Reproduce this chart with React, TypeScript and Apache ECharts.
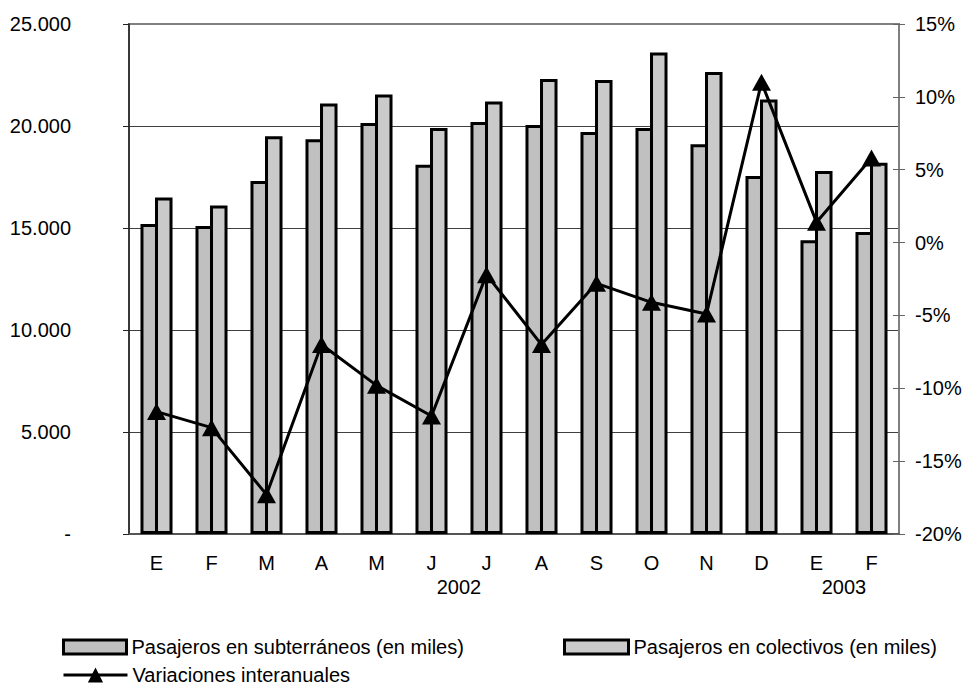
import React, { useEffect, useRef } from "react";
import * as echarts from "echarts";

const months = ["E", "F", "M", "A", "M", "J", "J", "A", "S", "O", "N", "D", "E", "F"];
const yearLabels: Record<number, string> = { 6: "2002", 13: "2003" };
const subte = [15200, 15100, 17300, 19350, 20150, 18100, 20200, 20050, 19700, 19900, 19100, 17550, 14400, 14800];
const colectivos = [16500, 16100, 19500, 21100, 21550, 19900, 21200, 22300, 22250, 23600, 22650, 21300, 17800, 18200];
const variaciones = [-11.6, -12.7, -17.3, -7.0, -9.8, -11.9, -2.2, -7.0, -2.8, -4.1, -4.9, 11.0, 1.4, 5.8];

const nameSub = "Pasajeros en subterráneos (en miles)";
const nameCol = "Pasajeros en colectivos (en miles)";
const nameVar = "Variaciones interanuales";

const FONT = "'Liberation Sans', Arial, sans-serif";

export default function App() {
  const ref = useRef<HTMLDivElement>(null);
  useEffect(() => {
    if (!ref.current) return;
    const chart = echarts.init(ref.current, undefined, { renderer: "svg" });
    const textStyle = { fontFamily: FONT, fontSize: 20, color: "#000" };
    const legendText = { ...textStyle, lineHeight: 20 };
    chart.setOption({
      animation: false,
      backgroundColor: "#fff",
      textStyle: { fontFamily: FONT },
      grid: {
        left: 129,
        right: 67,
        top: 24,
        bottom: 151,
        show: true,
        borderColor: "#808080",
        borderWidth: 2,
        backgroundColor: "transparent",
      },
      legend: [
        {
          data: [{ name: nameSub, icon: "rect" }],
          left: 62,
          top: 637,
          padding: 0,
          itemWidth: 63,
          itemHeight: 14,
          textStyle: legendText,
          itemStyle: { borderColor: "#000", borderWidth: 3 },
        },
        {
          data: [{ name: nameCol, icon: "rect" }],
          left: 563,
          top: 637,
          padding: 0,
          itemWidth: 64,
          itemHeight: 14,
          textStyle: legendText,
          itemStyle: { borderColor: "#000", borderWidth: 3 },
        },
        {
          data: [nameVar],
          left: 62,
          top: 665,
          padding: 0,
          itemWidth: 64,
          itemHeight: 19,
          textStyle: legendText,
          lineStyle: { width: 3, color: "#000" },
        },
      ],
      xAxis: [
        {
          type: "category",
          data: months,
          position: "bottom",
          axisLine: { lineStyle: { color: "#555", width: 2 } },
          axisTick: { length: 6, lineStyle: { color: "#333", width: 1 } },
          axisLabel: { ...textStyle, margin: 19 },
          splitLine: { show: false },
        },
        {
          type: "category",
          data: months,
          position: "bottom",
          axisLine: { show: false },
          axisTick: { inside: true, length: 7, lineStyle: { color: "#333", width: 1 } },
          axisLabel: { show: false },
          splitLine: { show: false },
        },
        {
          type: "value",
          min: 0,
          max: months.length,
          interval: 1,
          position: "bottom",
          axisLine: { show: false },
          axisTick: { show: false },
          splitLine: { show: false },
          axisLabel: {
            ...textStyle,
            margin: 43,
            showMinLabel: true,
            showMaxLabel: true,
            formatter: (v: number) => yearLabels[v] ?? "",
          },
        },
      ],
      yAxis: [
        {
          type: "value",
          min: 0,
          max: 25000,
          interval: 5000,
          position: "left",
          axisLine: { show: true, lineStyle: { color: "#222", width: 1.5 } },
          axisTick: { show: true, length: 6, lineStyle: { color: "#222" } },
          axisLabel: {
            ...textStyle,
            margin: 58,
            formatter: (v: number) =>
              v === 0 ? "-" : v.toString().replace(/\B(?=(\d{3})+(?!\d))/g, "."),
          },
          splitLine: {
            show: true,
            lineStyle: {
              color: ["#404040", "#404040", "#404040", "#404040", "#404040", "#808080"],
              width: 1,
            },
          },
        },
        {
          type: "value",
          min: -20,
          max: 15,
          interval: 5,
          position: "right",
          axisLine: { show: true, lineStyle: { color: "#808080", width: 2 } },
          axisTick: { show: true, length: 6, lineStyle: { color: "#666" } },
          axisLabel: { ...textStyle, margin: 16, formatter: "{value}%" },
          splitLine: { show: false },
        },
        {
          type: "value",
          min: -20,
          max: 15,
          interval: 5,
          position: "right",
          axisLine: { show: false },
          axisTick: { show: true, inside: true, length: 6, lineStyle: { color: "#666" } },
          axisLabel: { show: false },
          splitLine: { show: false },
        },
      ],
      series: [
        {
          name: nameSub,
          type: "bar",
          xAxisIndex: 0,
          yAxisIndex: 0,
          data: subte,
          barWidth: 17.5,
          barGap: "-17%",
          itemStyle: { color: "#c0c0c0", borderColor: "#000", borderWidth: 3 },
        },
        {
          name: nameCol,
          type: "bar",
          xAxisIndex: 0,
          yAxisIndex: 0,
          data: colectivos,
          barWidth: 17.5,
          barGap: "-17%",
          itemStyle: { color: "#cacaca", borderColor: "#000", borderWidth: 3 },
        },
        {
          name: nameVar,
          type: "line",
          xAxisIndex: 0,
          yAxisIndex: 1,
          data: variaciones,
          symbol: "triangle",
          symbolSize: [19, 17],
          showSymbol: true,
          lineStyle: { color: "#000", width: 3 },
          itemStyle: { color: "#000" },
          z: 5,
        },
      ],
    });
    return () => chart.dispose();
  }, []);
  return <div ref={ref} style={{ width: 966, height: 685, position: "absolute", left: 0, top: 0 }} />;
}
